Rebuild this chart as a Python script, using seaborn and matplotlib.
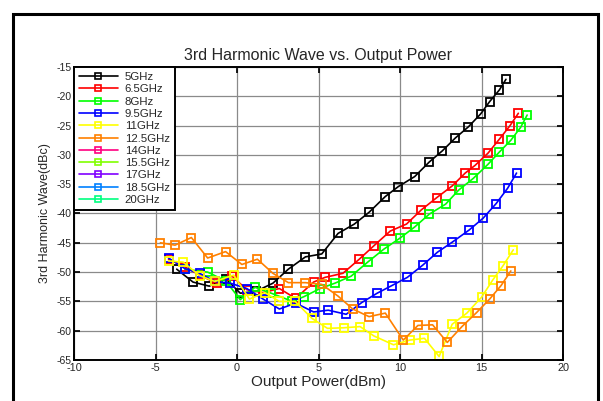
import matplotlib
matplotlib.use("Agg")
import matplotlib.pyplot as plt
import seaborn as sns
import pandas as pd
from matplotlib.patches import Rectangle
from matplotlib.lines import Line2D

sns.set_theme(style="white")
plt.rcParams['font.family'] = ['Liberation Sans', 'DejaVu Sans']
plt.rcParams['axes.unicode_minus'] = False

labels = ["5GHz", "6.5GHz", "8GHz", "9.5GHz", "11GHz", "12.5GHz", "14GHz",
          "15.5GHz", "17GHz", "18.5GHz", "20GHz"]
colors = ["#000000", "#ff0000", "#00ff00", "#0000ff", "#ffff00", "#ff8000",
          "#ff0080", "#80ff00", "#8000ff", "#0080ff", "#00ff80"]

x_5 = [-3.7, -2.7, -1.7, -0.7, 0.2, 1.15, 2.2, 3.15, 4.2, 5.2, 6.2, 7.2, 8.1, 9.1, 9.9,
       10.9, 11.8, 12.6, 13.4, 14.2, 14.95, 15.5, 16.1, 16.5]
y_5 = [-49.5, -51.7, -52.4, -51.1, -53.6, -53.3, -51.9, -49.5, -47.4, -46.9, -43.4, -41.8,
       -39.8, -37.1, -35.4, -33.7, -31.2, -29.3, -27.1, -25.2, -23.0, -20.9, -18.9, -17.1]

x_65 = [-4.2, -3.2, -2.3, -1.25, -0.3, 0.6, 1.6, 2.6, 3.6, 4.7, 5.4, 6.5, 7.5, 8.4, 9.4,
        10.4, 11.3, 12.25, 13.2, 14.0, 14.6, 15.4, 16.1, 16.75, 17.26]
y_65 = [-47.8, -49.1, -50.5, -51.9, -50.7, -53.0, -53.5, -52.8, -54.5, -51.7, -50.9, -50.2,
        -47.8, -45.5, -43.0, -41.8, -39.4, -37.3, -35.3, -33.1, -31.8, -29.7, -27.3, -25.0, -22.9]

x_8 = [-3.2, -1.8, -0.7, 0.2, 1.1, 2.1, 3.4, 4.1, 5.1, 6.0, 7.0, 8.06, 9.0, 10.0, 10.9,
       11.8, 12.8, 13.6, 14.5, 15.4, 16.1, 16.8, 17.4, 17.8]
y_8 = [-49.5, -50.0, -51.5, -54.7, -52.6, -53.6, -55.0, -54.2, -52.8, -51.9, -50.7, -48.2,
       -46.1, -44.2, -42.3, -40.1, -38.4, -36.0, -34.0, -31.6, -29.5, -27.5, -25.3, -23.2]

x_95 = [-4.2, -3.2, -2.3, -1.35, -0.4, 0.6, 1.6, 2.6, 3.6, 4.7, 5.6, 6.7, 7.65, 8.6, 9.5,
        10.45, 11.4, 12.3, 13.2, 14.25, 15.1, 15.9, 16.6, 17.15]
y_95 = [-47.6, -49.4, -50.2, -51.6, -51.9, -52.8, -54.6, -56.3, -55.3, -56.8, -56.5, -57.2,
        -55.2, -53.6, -52.3, -50.9, -48.8, -46.6, -44.9, -42.8, -40.8, -38.3, -35.7, -33.1]

x_11 = [-4.2, -3.3, -2.3, -1.35, -0.2, 0.76, 1.7, 2.6, 3.56, 4.6, 5.55, 6.56, 7.55, 8.4,
        9.6, 10.6, 11.5, 12.4, 13.2, 14.1, 15.0, 15.7, 16.3, 16.95]
y_11 = [-48.1, -48.3, -50.6, -51.6, -50.5, -54.6, -53.5, -55.0, -55.0, -57.9, -59.6, -59.5,
        -59.3, -60.9, -62.4, -61.6, -61.3, -64.4, -58.9, -57.0, -54.3, -51.3, -49.0, -46.2]

x_125 = [-4.7, -3.8, -2.8, -1.8, -0.7, 0.3, 1.25, 2.2, 3.15, 4.2, 5.2, 6.2, 7.1, 8.1, 9.1,
         10.2, 11.1, 12.0, 12.9, 13.8, 14.7, 15.5, 16.2, 16.8]
y_125 = [-45.0, -45.4, -44.1, -47.6, -46.5, -48.7, -47.8, -50.2, -51.8, -51.8, -52.1, -54.1,
         -56.3, -57.6, -57.0, -61.6, -59.1, -59.0, -62.0, -59.3, -56.9, -54.6, -52.3, -49.8]

series_x = [x_5, x_65, x_8, x_95, x_11, x_125, [], [], [], [], []]
series_y = [y_5, y_65, y_8, y_95, y_11, y_125, [], [], [], [], []]

fig = plt.figure(figsize=(6.03, 4.01), dpi=100)
fig.patches.append(Rectangle((13 / 603, -0.05), (598 - 13) / 603, 1 - 14 / 401 + 0.05,
                             transform=fig.transFigure, fill=False, edgecolor='black',
                             linewidth=2.2, zorder=0))
ax = fig.add_axes([74 / 603, 1 - 360 / 401, (563 - 74) / 603, (360 - 67) / 401])

for lab, col, xs, ys in zip(labels, colors, series_x, series_y):
    if len(xs) == 0:
        continue
    df = pd.DataFrame({"x": xs, "y": ys})
    sns.lineplot(data=df, x="x", y="y", ax=ax, color=col, sort=False, marker='s',
                 markersize=5.2, markerfacecolor='none', markeredgecolor=col,
                 markeredgewidth=1.3, linewidth=1.2, legend=False)

ax.set_xlim(-10, 20)
ax.set_ylim(-65, -15)
ax.set_xticks(range(-10, 21, 5))
ax.set_yticks(range(-65, -14, 5))
ax.grid(True, color='#8a8a8a', linewidth=0.9)
ax.tick_params(direction='in', length=4, labelsize=7.8, top=True, right=True,
               bottom=True, left=True, pad=2.5, color='black')
ax.tick_params(axis='y', labelsize=7.5, pad=2)
for s in ax.spines.values():
    s.set_color('black')
    s.set_linewidth(1.4)
ax.set_xlabel("Output Power(dBm)", fontsize=11, labelpad=1)
ax.set_ylabel("3rd Harmonic Wave(dBc)", fontsize=9, labelpad=4)
ax.set_title("3rd Harmonic Wave vs. Output Power", fontsize=11.5, pad=5)

handles = [Line2D([], [], color=c, marker='s', markersize=5, markerfacecolor='none',
                  markeredgecolor=c, markeredgewidth=1.2, linewidth=1.2) for c in colors]
leg = ax.legend(handles, labels, loc='upper left', fontsize=8.2, frameon=True,
                fancybox=False, borderaxespad=0, handlelength=3.4, handletextpad=0.6,
                labelspacing=0.2, borderpad=0.45, framealpha=1)
leg.get_frame().set_edgecolor('black')
leg.get_frame().set_linewidth(1.4)

fig.savefig("out.png", dpi=100)
